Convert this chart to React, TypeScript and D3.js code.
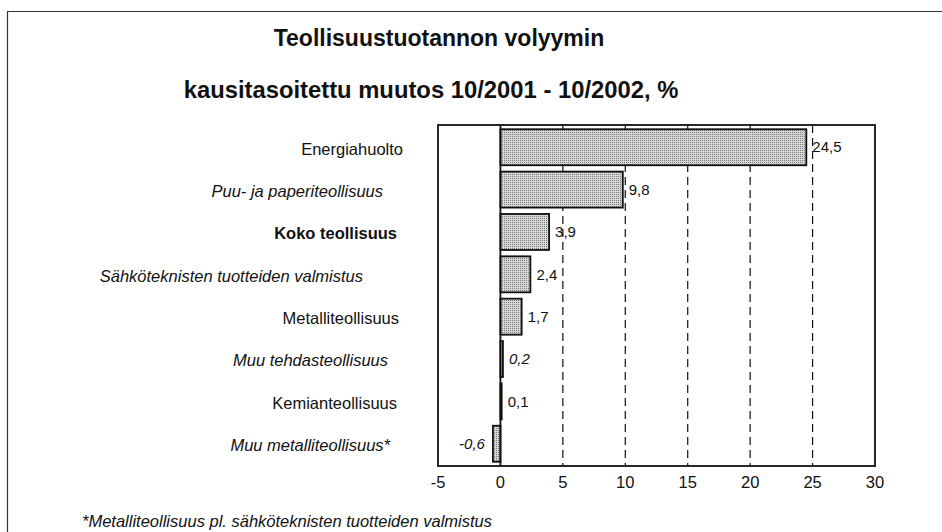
import React from "react";
import * as d3 from "d3";

const WIDTH = 942;
const HEIGHT = 532;

const categories = [
  "Energiahuolto",
  "Puu- ja paperiteollisuus",
  "Koko teollisuus",
  "Sähköteknisten tuotteiden valmistus",
  "Metalliteollisuus",
  "Muu tehdasteollisuus",
  "Kemianteollisuus",
  "Muu metalliteollisuus*",
];
const values = [24.5, 9.8, 3.9, 2.4, 1.7, 0.2, 0.1, -0.6];
const xTicks = [-5, 0, 5, 10, 15, 20, 25, 30];
const gridTicks = [5, 10, 15, 20, 25];

const titleLines = [
  "Teollisuustuotannon volyymin",
  "kausitasoitettu muutos 10/2001 - 10/2002, %",
];
const footnote = "*Metalliteollisuus pl. sähköteknisten tuotteiden valmistus";

// label styling by category
const italicCats = new Set([
  "Puu- ja paperiteollisuus",
  "Sähköteknisten tuotteiden valmistus",
  "Muu tehdasteollisuus",
  "Muu metalliteollisuus*",
]);
const boldCats = new Set(["Koko teollisuus"]);
// the original labels are not quite flush right (trailing spaces in the source)
const labelNudge: Record<string, number> = {
  "Energiahuolto": 4,
  "Puu- ja paperiteollisuus": -16,
  "Koko teollisuus": -2,
  "Sähköteknisten tuotteiden valmistus": -36,
  "Metalliteollisuus": 0,
  "Muu tehdasteollisuus": -11,
  "Kemianteollisuus": -2,
  "Muu metalliteollisuus*": -9,
};

const FONT = "'Liberation Sans', Arial, sans-serif";

const plot = { left: 438, right: 875, top: 125, bottom: 466 };

export default function App() {
  const x = d3.scaleLinear().domain([-5, 30]).range([plot.left, plot.right]);
  const y = d3
    .scaleBand<string>()
    .domain(categories)
    .range([plot.top, plot.bottom])
    .paddingInner(0.15)
    .paddingOuter(0.1);

  const fmt = (v: number) => String(v).replace(".", ",");

  return (
    <svg
      width={WIDTH}
      height={HEIGHT}
      style={{ position: "absolute", left: 0, top: 0, background: "#fff" }}
      fontFamily={FONT}
    >
      <defs>
        <pattern id="dots" width={2} height={2} patternUnits="userSpaceOnUse">
          <rect width={2} height={2} fill="#d6d6d6" />
          <rect width={1} height={1} fill="#7a7a7a" />
        </pattern>
      </defs>

      {/* outer frame */}
      <path d={`M7.5,${HEIGHT} V11.5 H${WIDTH}`} fill="none" stroke="#333" strokeWidth={1.2} />

      {/* titles */}
      <text x={439} y={46} textAnchor="middle" fontWeight="bold" fontSize={23} fill="#111">
        {titleLines[0]}
      </text>
      <text x={431} y={98} textAnchor="middle" fontWeight="bold" fontSize={23.8} fill="#111">
        {titleLines[1]}
      </text>

      {/* grid */}
      {gridTicks.map((t) => (
        <line
          key={t}
          x1={x(t)}
          x2={x(t)}
          y1={plot.top}
          y2={plot.bottom}
          stroke="#111"
          strokeWidth={1.2}
          strokeDasharray="8,5"
        />
      ))}

      {/* bars */}
      {categories.map((c, i) => {
        const v = values[i];
        const x0 = x(Math.min(0, v));
        const x1 = x(Math.max(0, v));
        return (
          <rect
            key={c}
            x={x0}
            y={y(c)}
            width={Math.max(1, x1 - x0)}
            height={y.bandwidth()}
            fill="url(#dots)"
            stroke="#111"
            strokeWidth={1.8}
          />
        );
      })}

      {/* zero line */}
      <line x1={x(0)} x2={x(0)} y1={plot.top} y2={plot.bottom} stroke="#111" strokeWidth={1.8} />

      {/* plot border */}
      <rect
        x={plot.left}
        y={plot.top}
        width={plot.right - plot.left}
        height={plot.bottom - plot.top}
        fill="none"
        stroke="#111"
        strokeWidth={1.8}
      />

      {/* value labels */}
      {categories.map((c, i) => {
        const v = values[i];
        const cy = (y(c) ?? 0) + y.bandwidth() / 2;
        const italic = (v >= 0 && v < 1 && italicCats.has(c)) || v < 0;
        return (
          <text
            key={c}
            x={v >= 0 ? x(v) + 6 : x(v) - 8}
            y={cy}
            dy="0.35em"
            textAnchor={v >= 0 ? "start" : "end"}
            fontSize={15}
            fontStyle={italic ? "italic" : "normal"}
            fill="#111"
          >
            {fmt(v)}
          </text>
        );
      })}

      {/* category labels */}
      {categories.map((c) => (
        <text
          key={c}
          x={399 + (labelNudge[c] ?? 0)}
          y={(y(c) ?? 0) + y.bandwidth() / 2 + 1.5}
          dy="0.35em"
          textAnchor="end"
          fontSize={16.5}
          fontStyle={italicCats.has(c) ? "italic" : "normal"}
          fontWeight={boldCats.has(c) ? "bold" : "normal"}
          fill="#111"
        >
          {c}
        </text>
      ))}

      {/* x tick labels */}
      {xTicks.map((t) => (
        <text key={t} x={x(t)} y={488} textAnchor="middle" fontSize={16.5} fill="#111">
          {t}
        </text>
      ))}

      {/* footnote */}
      <text x={82} y={527} fontSize={16.5} fontStyle="italic" fill="#111">
        {footnote}
      </text>
    </svg>
  );
}
